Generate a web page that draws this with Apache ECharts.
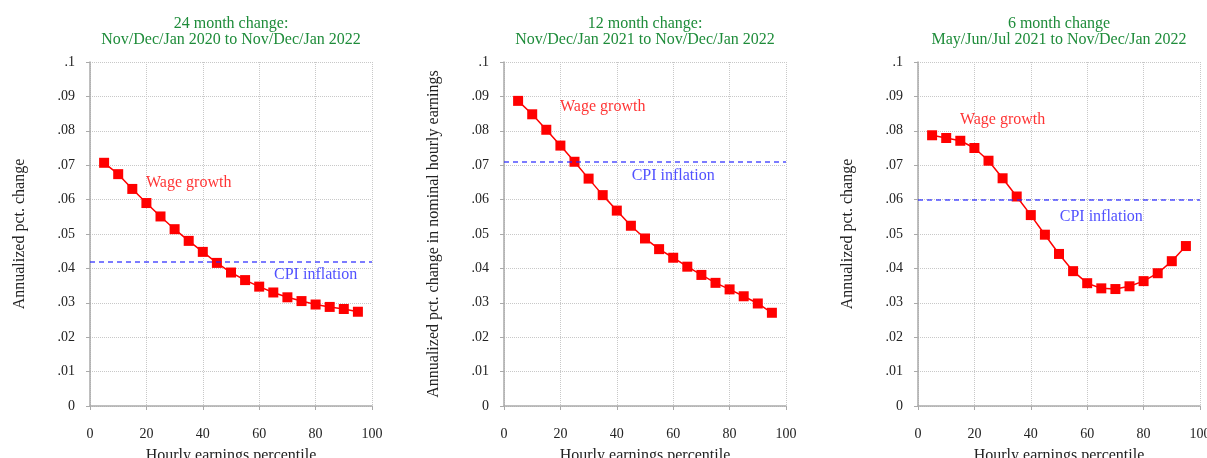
<!DOCTYPE html>
<html>
<head>
<meta charset="utf-8">
<script src="https://cdn.jsdelivr.net/npm/echarts@6/dist/echarts.min.js"></script>
<style>
  html, body { margin: 0; padding: 0; background: #fff; }
  #chart { width: 1207px; height: 458px; }
</style>
</head>
<body>
<div id="chart"></div>
<script>
// percentile bins on the x axis
const percentiles = [5, 10, 15, 20, 25, 30, 35, 40, 45, 50, 55, 60, 65, 70, 75, 80, 85, 90, 95];

// annualized wage growth by percentile
const wage24 = [0.0707, 0.0674, 0.0631, 0.0590, 0.0551, 0.0514, 0.0480, 0.0448, 0.0416, 0.0388,
                0.0366, 0.0347, 0.0330, 0.0316, 0.0305, 0.0295, 0.0288, 0.0282, 0.0274];
const wage12 = [0.0887, 0.0848, 0.0803, 0.0757, 0.0710, 0.0661, 0.0613, 0.0568, 0.0524, 0.0487,
                0.0456, 0.0431, 0.0405, 0.0381, 0.0358, 0.0339, 0.0319, 0.0298, 0.0271];
const wage6 = [0.0787, 0.0779, 0.0771, 0.0750, 0.0713, 0.0662, 0.0609, 0.0555, 0.0498, 0.0442,
               0.0392, 0.0357, 0.0342, 0.0340, 0.0348, 0.0363, 0.0386, 0.0421, 0.0465];

// CPI inflation over the same windows
const cpi = [0.0419, 0.0711, 0.0599];

// tick labels
const xTickLabels = ['0', '20', '40', '60', '80', '100'];
const yTickLabels = ['0', '.01', '.02', '.03', '.04', '.05', '.06', '.07', '.08', '.09', '.1'];

const titles = [
  '24 month change:\nNov/Dec/Jan 2020 to Nov/Dec/Jan 2022',
  '12 month change:\nNov/Dec/Jan 2021 to Nov/Dec/Jan 2022',
  '6 month change\nMay/Jun/Jul 2021 to Nov/Dec/Jan 2022'
];
const yNames = [
  'Annualized pct. change',
  'Annualized pct. change in nominal hourly earnings',
  'Annualized pct. change'
];
const xName = 'Hourly earnings percentile';

// text annotations (x, y in data units)
const wageLabelPos = [[35, 0.065], [35, 0.087], [30, 0.0833]];
const cpiLabelPos = [[80, 0.038], [60, 0.067], [65, 0.055]];

const wages = [wage24, wage12, wage6];
const gridLefts = [90, 504, 918];
const serif = "'Liberation Serif', 'DejaVu Serif', serif";
const red = '#ff0000';
const blue = '#2424ff';

let chart = echarts.init(document.getElementById('chart'));

let grid = [], xAxis = [], yAxis = [], series = [], title = [];

for (let i = 0; i < 3; i++) {
  grid.push({ left: gridLefts[i], top: 62, width: 282, height: 344, outerBoundsMode: 'none' });

  title.push({
    text: titles[i],
    left: gridLefts[i] + 141,
    top: 16,
    padding: 0,
    textAlign: 'center',
    textStyle: {
      fontFamily: serif,
      fontSize: 16,
      fontWeight: 'normal',
      color: '#1e8c3a',
      lineHeight: 16
    }
  });

  xAxis.push({
    gridIndex: i,
    type: 'value',
    min: 0,
    max: 100,
    interval: 20,
    offset: 9,
    name: xName,
    nameLocation: 'middle',
    nameGap: 33,
    nameTextStyle: { fontFamily: serif, fontSize: 16, color: '#222' },
    axisLine: { show: true, lineStyle: { color: '#aaa', width: 1.5 } },
    axisTick: { show: true, length: 4, lineStyle: { color: '#aaa' } },
    axisLabel: {
      fontFamily: serif, fontSize: 14, color: '#222', margin: 12,
      formatter: function (v) { return xTickLabels[Math.round(v / 20)]; }
    },
    splitLine: { show: true, lineStyle: { color: '#c8c8c8', type: 'dotted', width: 1 } }
  });

  yAxis.push({
    gridIndex: i,
    type: 'value',
    min: 0,
    max: 0.1,
    interval: 0.01,
    offset: 10,
    name: yNames[i],
    nameLocation: 'middle',
    nameGap: 52,
    nameTextStyle: { fontFamily: serif, fontSize: 16, color: '#222' },
    axisLine: { show: true, lineStyle: { color: '#aaa', width: 1.5 } },
    axisTick: { show: true, length: 4, lineStyle: { color: '#aaa' } },
    axisLabel: {
      fontFamily: serif, fontSize: 14, color: '#222', margin: 5,
      formatter: function (v) { return yTickLabels[Math.round(v * 100)]; }
    },
    splitLine: { show: true, lineStyle: { color: '#c8c8c8', type: 'dotted', width: 1 } }
  });

  series.push({
    type: 'line',
    xAxisIndex: i,
    yAxisIndex: i,
    data: percentiles.map((p, k) => [p, wages[i][k]]),
    symbol: 'rect',
    symbolSize: 10,
    lineStyle: { color: red, width: 1.5 },
    itemStyle: { color: red },
    markLine: {
      silent: true,
      symbol: 'none',
      precision: 4,
      label: { show: false },
      lineStyle: { color: blue, type: [5, 4], width: 1.5, opacity: 0.8 },
      data: [{ yAxis: cpi[i] }]
    }
  });

  // annotations
  series.push({
    type: 'scatter',
    xAxisIndex: i,
    yAxisIndex: i,
    symbolSize: 1,
    silent: true,
    itemStyle: { color: 'rgba(0,0,0,0)' },
    label: {
      show: true,
      position: 'inside',
      fontFamily: serif,
      fontSize: 16,
      formatter: '{b}'
    },
    data: [
      { name: 'Wage growth', value: wageLabelPos[i], label: { color: red } },
      { name: 'CPI inflation', value: cpiLabelPos[i], label: { color: blue } }
    ]
  });
}

chart.setOption({
  animation: false,
  title: title,
  grid: grid,
  xAxis: xAxis,
  yAxis: yAxis,
  series: series
});
</script>
</body>
</html>
